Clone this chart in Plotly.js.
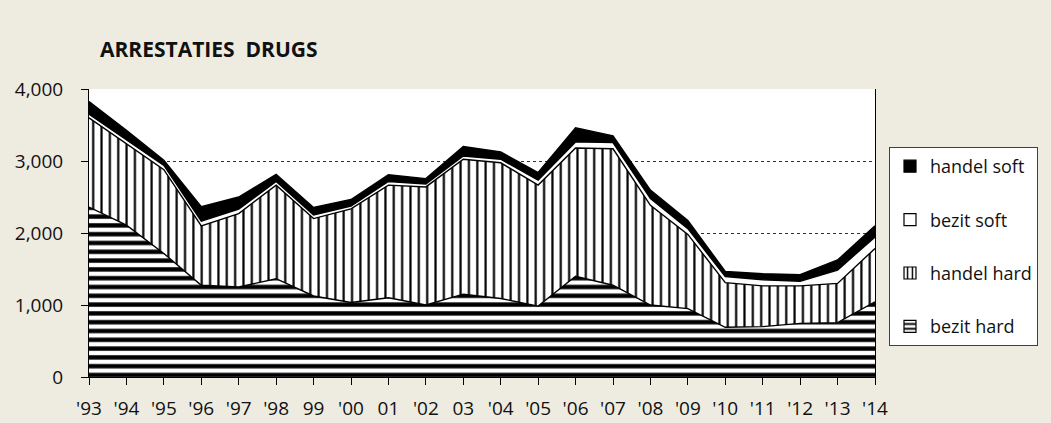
<!DOCTYPE html>
<html>
<head>
<meta charset="utf-8">
<script src="https://cdn.plot.ly/plotly-3.0.1.min.js"></script>
<style>
  html, body { margin: 0; padding: 0; background: #EEECE1; }
  #chart { width: 1051px; height: 423px; }
</style>
</head>
<body>
<div id="chart"></div>
<script>
// Categories (year tick labels as printed on the chart)
var years = ["'93","'94","'95","'96","'97","'98","99","'00","01","'02","03","'04","'05","'06","'07","'08","'09","'10","'11","'12","'13","'14"];

// Series values (number of arrests)
var bezitHard  = [2360, 2110, 1715, 1275, 1250, 1365, 1125, 1035, 1100, 1000, 1150, 1090,  985, 1400, 1275, 1000,  950,  690,  700,  745,  755, 1045];
var handelHard = [1240, 1130, 1165,  825, 1020, 1300, 1075, 1300, 1565, 1640, 1875, 1885, 1680, 1780, 1895, 1385, 1030,  620,  565,  520,  545,  740];
var bezitSoft  = [  50,   55,   60,   65,   60,   50,   50,   40,   50,   40,   45,   50,   70,   85,   85,   95,   80,   85,   85,   65,  185,  160];
var handelSoft = [ 175,  130,   70,  200,  170,  100,  105,   90,   95,   75,  130,  100,  105,  195,   95,  115,  115,   70,   85,   90,  140,  155];

var seriesNames = ["bezit hard", "handel hard", "bezit soft", "handel soft"];

var FONT = "'Open Sans', 'Noto Sans', sans-serif";
var lineStyle = {color: "#000000", width: 1.4};

// Area patterns per series (pattern = plot fill, swatch = legend square)
var areaStyles = [
  {fill: "#ffffff", pattern: {shape: "-", bgcolor: "#ffffff", fgcolor: "#000000", size: 8.8, solidity: 0.5},
   swatch: {shape: "-", bgcolor: "#ffffff", fgcolor: "#000000", size: 6, solidity: 0.4}},
  {fill: "#ffffff", pattern: {shape: "|", bgcolor: "#ffffff", fgcolor: "#000000", size: 8.35, solidity: 0.26},
   swatch: {shape: "|", bgcolor: "#ffffff", fgcolor: "#000000", size: 6, solidity: 0.3}},
  {fill: "#ffffff", pattern: null, swatch: null},
  {fill: "#000000", pattern: null, swatch: null}
];
var seriesValues = [bezitHard, handelHard, bezitSoft, handelSoft];

var traces = [];
// stacked areas (drawn from the data)
seriesValues.forEach(function (vals, i) {
  var t = {
    type: "scatter", mode: "lines", name: seriesNames[i], x: years, y: vals,
    stackgroup: "one", line: lineStyle, fillcolor: areaStyles[i].fill,
    showlegend: false, legendgroup: "g" + i
  };
  if (areaStyles[i].pattern) t.fillpattern = areaStyles[i].pattern;
  traces.push(t);
});
// legend entries with square swatches (no marks drawn: value is null)
seriesValues.forEach(function (vals, i) {
  var m = {color: areaStyles[i].fill, line: {color: "#000000", width: 1.2}};
  if (areaStyles[i].swatch) m.pattern = areaStyles[i].swatch;
  traces.push({
    type: "bar", name: seriesNames[i], x: [years[0]], y: [null],
    marker: m, showlegend: true, legendgroup: "g" + i,
    legendrank: 10 - i
  });
});

var layout = {
  width: 1051, height: 423,
  paper_bgcolor: "#EEECE1",
  plot_bgcolor: "#ffffff",
  margin: {l: 89, r: 176, t: 89, b: 46, pad: 0, autoexpand: false},
  font: {family: FONT, color: "#111111", size: 19},
  title: {
    text: "<b>ARRESTATIES  DRUGS</b>",
    font: {family: FONT, size: 21, color: "#111111"},
    xref: "container", yref: "container",
    x: 100 / 1051, xanchor: "left",
    y: 1 - 50 / 423, yanchor: "middle"
  },
  showlegend: true,
  legend: {
    traceorder: "grouped",
    tracegroupgap: 27,
    x: (889 - 89) / 786, xanchor: "left",
    y: (377 - 147) / 288, yanchor: "top",
    bgcolor: "#ffffff",
    bordercolor: "#404040",
    borderwidth: 1,
    font: {family: FONT, size: 18, color: "#111111"}
  },
  xaxis: {
    type: "category",
    range: [0, years.length - 1],
    showgrid: false,
    showline: true, linecolor: "#000000", linewidth: 1,
    ticks: "outside", ticklen: 7, tickcolor: "#000000", tickwidth: 1,
    ticklabelstandoff: 7,
    tickfont: {family: FONT, size: 19, color: "#111111"},
    zeroline: false,
    fixedrange: true
  },
  yaxis: {
    range: [0, 4000],
    dtick: 1000, tick0: 0,
    tickformat: ",d",
    showgrid: true, gridcolor: "#333333", gridwidth: 1, griddash: "dot",
    showline: true, linecolor: "#000000", linewidth: 1, mirror: true,
    ticks: "outside", ticklen: 7, tickcolor: "#000000", tickwidth: 1,
    ticklabelstandoff: 14,
    tickfont: {family: FONT, size: 19, color: "#111111"},
    zeroline: false,
    fixedrange: true
  }
};

Plotly.newPlot("chart", traces, layout, {displayModeBar: false, staticPlot: true});
</script>
</body>
</html>
